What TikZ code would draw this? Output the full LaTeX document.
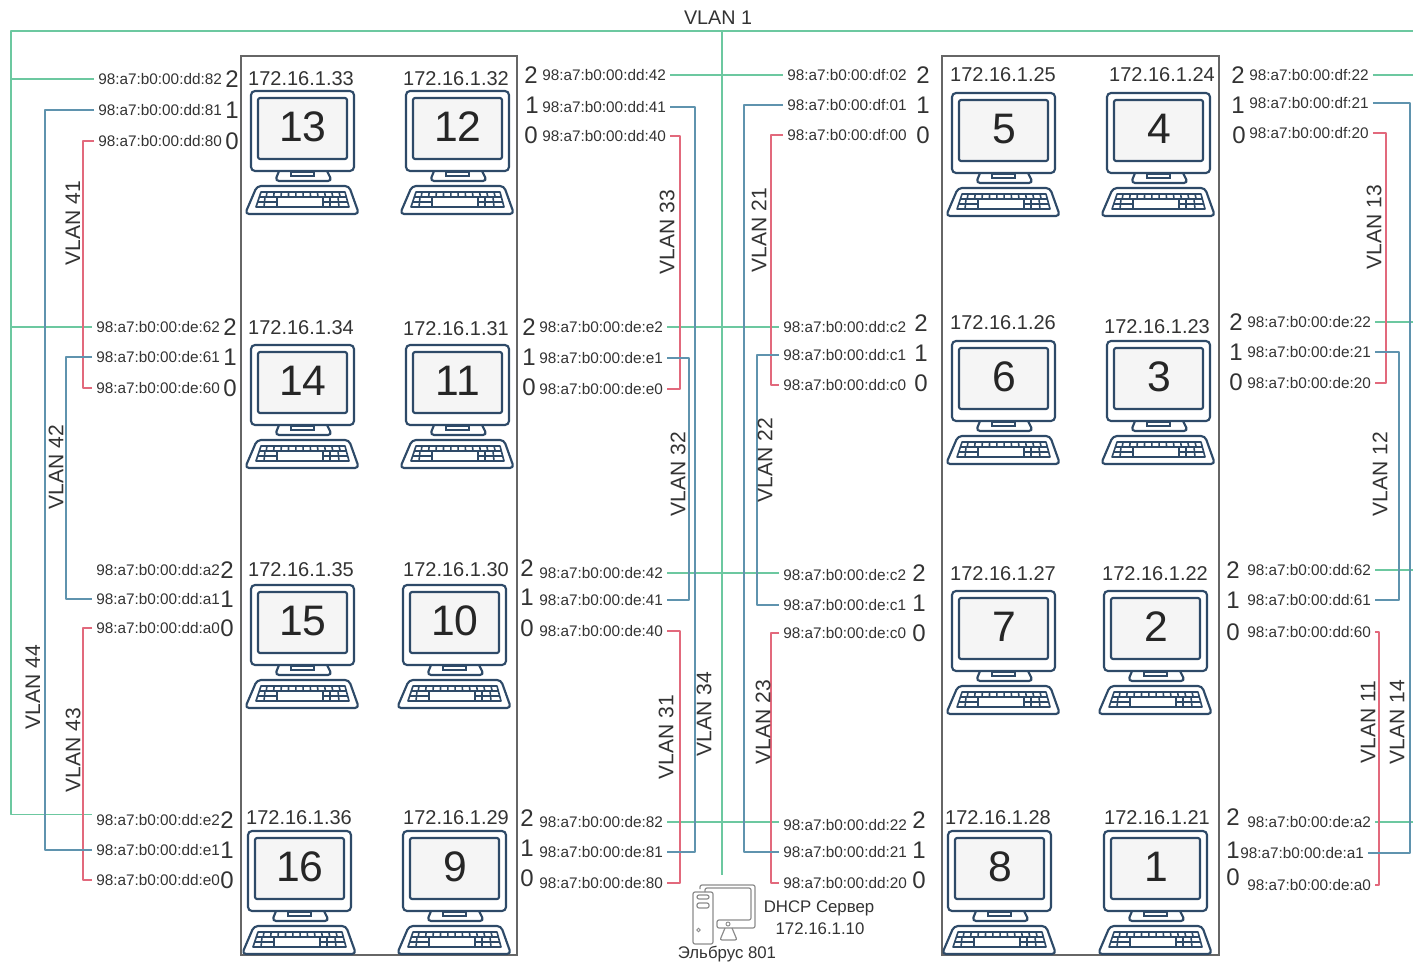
\documentclass[tikz,border=0pt]{standalone}
\usepackage{fontspec}
\setmainfont{Liberation Sans}
\definecolor{vgreen}{HTML}{6CC8A0}
\definecolor{vblue}{HTML}{5F93AE}
\definecolor{vred}{HTML}{E2697C}
\definecolor{pcline}{HTML}{2E4A68}
\definecolor{txt}{HTML}{333333}
\definecolor{srv}{HTML}{8C8C8C}
\tikzset{
  x=0.75pt,y=-0.75pt,
  every node/.style={text=txt,inner sep=0pt},
  maclabel/.style={font=\fontsize{11.5}{13}\selectfont,anchor=west,inner xsep=3pt,text height=8pt,text depth=0pt},
  portlabel/.style={font=\fontsize{18}{20}\selectfont},
  iplabel/.style={font=\fontsize{15}{17}\selectfont},
  vlanlabel/.style={font=\fontsize{15.8}{17}\selectfont,rotate=90},
  srvlabel/.style={font=\fontsize{12.6}{15}\selectfont},
  pcnum/.style={font=\fontsize{32}{34}\selectfont,text=black!85},
  lgreen/.style={draw=vgreen,line width=1.1pt,line join=round},
  lblue/.style={draw=vblue,line width=0.9pt,line join=round},
  lred/.style={draw=vred,line width=1pt,line join=round},
  pcstroke/.style={draw=pcline,line width=1.6pt,line join=round},
  pcthin/.style={draw=pcline,line width=1.2pt},
  srvstroke/.style={draw=srv,line width=0.9pt,rounded corners=1.5pt},
  cluster/.style={draw=black!60,line width=1pt},
}
\newcommand\pcicon[3]{%
\begin{scope}[shift={(#1)}]
  \draw[pcstroke,fill=white,rounded corners=3pt] (28,80) -- (24,90) -- (81,90) -- (76,80);
  \draw[pcthin] (40,81) rectangle (63,85);
  \draw[pcstroke,fill=white,rounded corners=3pt] (0,0) rectangle (103,80);
  \draw[pcstroke,fill=black!4,rounded corners=1.5pt] (7,7) rectangle (96,68);
  \draw[pcstroke,fill=white,rounded corners=3pt] (6,95) -- (98,95) -- (108,123) -- (-6,123) -- cycle;
  \draw[pcthin,line join=round] (10,101) -- (94,101) -- (98,116) -- (5,116) -- cycle;
  \draw[pcthin] (8.4,106) -- (95.4,106) (6.7,111) -- (26,111) (72,111) -- (96.7,111);
  \foreach \k in {0,...,10}{\draw[pcthin] (16+7.2*\k,101) -- (15.2+7.4*\k,106);}
  \draw[pcthin] (14,106) -- (13,116) (26,106) -- (26,116) (72,106) -- (72,116) (79,106) -- (79,116) (87,106) -- (88,116);
  \node[pcnum] (pc#3) at (52,36) {#3};
\end{scope}}
% name, label x, label y, text, port x, port y, port digit
\newcommand\macl[7]{\node[maclabel] (m#1) at (#2,#3) {#4};\node[portlabel] (p#1) at (#5,#6) {#7};}
\begin{document}
\begin{tikzpicture}
\useasboundingbox (0,0) rectangle (1413,963);
\fill[white] (0,0) rectangle (1413,963);
\draw[cluster] (241,56) rectangle (517,955);
\draw[cluster] (942,56) rectangle (1219,955);
% bus positions
\coordinate (xa) at (11,0);\coordinate (xb) at (45,0);\coordinate (xc) at (66,0);\coordinate (xd) at (83,0);
\coordinate (xe) at (680,0);\coordinate (xf) at (689,0);\coordinate (xg) at (695,0);
\coordinate (xh) at (744,0);\coordinate (xi) at (757,0);\coordinate (xj) at (771,0);
\coordinate (xk) at (1379,0);\coordinate (xl) at (1386,0);\coordinate (xm) at (1399,0);\coordinate (xn) at (1410,0);
\coordinate (xr) at (1413,0);
% MAC labels, ports
\macl{a1}{94}{79}{98:a7:b0:00:dd:82}{232}{79}{2}
\macl{a2}{94}{110}{98:a7:b0:00:dd:81}{232}{110}{1}
\macl{a3}{94}{141}{98:a7:b0:00:dd:80}{232}{141}{0}
\macl{a4}{92}{327}{98:a7:b0:00:de:62}{230}{327}{2}
\macl{a5}{92}{357}{98:a7:b0:00:de:61}{230}{357}{1}
\macl{a6}{92}{388}{98:a7:b0:00:de:60}{230}{388}{0}
\macl{a7}{92}{570}{98:a7:b0:00:dd:a2}{227}{570}{2}
\macl{a8}{92}{599}{98:a7:b0:00:dd:a1}{227}{599}{1}
\macl{a9}{92}{628}{98:a7:b0:00:dd:a0}{227}{628}{0}
\macl{a10}{92}{820}{98:a7:b0:00:dd:e2}{227}{820}{2}
\macl{a11}{92}{850}{98:a7:b0:00:dd:e1}{227}{850}{1}
\macl{a12}{92}{880}{98:a7:b0:00:dd:e0}{227}{880}{0}
\macl{b1}{538}{75}{98:a7:b0:00:dd:42}{531}{75}{2}
\macl{b2}{538}{107}{98:a7:b0:00:dd:41}{532}{105}{1}
\macl{b3}{538}{136}{98:a7:b0:00:dd:40}{531}{135}{0}
\macl{b4}{535}{327}{98:a7:b0:00:de:e2}{529}{327}{2}
\macl{b5}{535}{358}{98:a7:b0:00:de:e1}{529}{357}{1}
\macl{b6}{535}{389}{98:a7:b0:00:de:e0}{529}{387}{0}
\macl{b7}{535}{573}{98:a7:b0:00:de:42}{527}{568}{2}
\macl{b8}{535}{600}{98:a7:b0:00:de:41}{527}{597}{1}
\macl{b9}{535}{631}{98:a7:b0:00:de:40}{527}{628}{0}
\macl{b10}{535}{822}{98:a7:b0:00:de:82}{527}{818}{2}
\macl{b11}{535}{852}{98:a7:b0:00:de:81}{527}{848}{1}
\macl{b12}{535}{883}{98:a7:b0:00:de:80}{527}{878}{0}
\macl{c1}{783}{75}{98:a7:b0:00:df:02}{923}{75}{2}
\macl{c2}{783}{105}{98:a7:b0:00:df:01}{923}{105}{1}
\macl{c3}{783}{135}{98:a7:b0:00:df:00}{923}{135}{0}
\macl{c4}{779}{327}{98:a7:b0:00:dd:c2}{921}{323}{2}
\macl{c5}{779}{355}{98:a7:b0:00:dd:c1}{921}{353}{1}
\macl{c6}{779}{385}{98:a7:b0:00:dd:c0}{921}{383}{0}
\macl{c7}{779}{575}{98:a7:b0:00:de:c2}{919}{573}{2}
\macl{c8}{779}{605}{98:a7:b0:00:de:c1}{919}{603}{1}
\macl{c9}{779}{633}{98:a7:b0:00:de:c0}{919}{633}{0}
\macl{c10}{779}{825}{98:a7:b0:00:dd:22}{919}{820}{2}
\macl{c11}{779}{852}{98:a7:b0:00:dd:21}{919}{850}{1}
\macl{c12}{779}{883}{98:a7:b0:00:dd:20}{919}{880}{0}
\macl{d1}{1245}{75}{98:a7:b0:00:df:22}{1238}{75}{2}
\macl{d2}{1245}{103}{98:a7:b0:00:df:21}{1238}{105}{1}
\macl{d3}{1245}{133}{98:a7:b0:00:df:20}{1239}{135}{0}
\macl{d4}{1243}{322}{98:a7:b0:00:de:22}{1236}{322}{2}
\macl{d5}{1243}{352}{98:a7:b0:00:de:21}{1236}{352}{1}
\macl{d6}{1243}{383}{98:a7:b0:00:de:20}{1236}{382}{0}
\macl{d7}{1243}{570}{98:a7:b0:00:dd:62}{1233}{570}{2}
\macl{d8}{1243}{600}{98:a7:b0:00:dd:61}{1233}{600}{1}
\macl{d9}{1243}{632}{98:a7:b0:00:dd:60}{1233}{632}{0}
\macl{d10}{1243}{822}{98:a7:b0:00:de:a2}{1233}{817}{2}
\macl{d11}{1236}{853}{98:a7:b0:00:de:a1}{1233}{850}{1}
\macl{d12}{1243}{885}{98:a7:b0:00:de:a0}{1233}{877}{0}
% IPs
\foreach \n/\px/\py/\t in {i1/301/79/33,i2/456/79/32,i3/301/328/34,i4/456/329/31,i5/301/570/35,i6/456/570/30,i7/299/818/36,i8/456/818/29,i9/1003/75/25,i10/1162/75/24,i11/1003/323/26,i12/1157/327/23,i13/1003/574/27,i14/1155/574/22,i15/998/818/28,i16/1157/818/21}
  {\node[iplabel] (\n) at (\px,\py) {172.16.1.\t};}
% computers
\pcicon{251,91}{}{13}\pcicon{406,91}{}{12}
\pcicon{251,345}{}{14}\pcicon{406,345}{}{11}
\pcicon{251,585}{}{15}\pcicon{403,585}{}{10}
\pcicon{248,831}{}{16}\pcicon{403,831}{}{9}
\pcicon{952,93}{}{5}\pcicon{1107,93}{}{4}
\pcicon{952,341}{}{6}\pcicon{1107,341}{}{3}
\pcicon{952,591}{}{7}\pcicon{1104,591}{}{2}
\pcicon{948,831}{}{8}\pcicon{1104,831}{}{1}
% server
\coordinate (srvtop) at (722,875);
\node[srvlabel] (srvname) at (819,908) {DHCP Сервер};
\node[srvlabel] (srvip) at (820,929) {172.16.1.10};
\node[srvlabel] (srvbrand) at (727,954) {Эльбрус 801};
\begin{scope}
  \draw[srvstroke] (693,892) rectangle (713,944);
  \draw[srvstroke] (697,895) rectangle (709,899);
  \draw[srvstroke] (697,903) rectangle (709,908);
  \draw[srv,line width=0.7pt] (698.5,930) circle (1.7);
  \draw[srvstroke] (700,889) -- (700,885) -- (755,885) -- (755,928) -- (717,928) -- (717,920) -- (751,920) -- (751,888) -- (705,888) -- (705,892);
  \draw[srv,line width=0.7pt] (728,924) circle (2);
  \draw[srvstroke] (725,928) -- (720,940) -- (737,940) -- (732,928);
\end{scope}
% VLAN 1
\coordinate (topl) at (11,31);\coordinate (topr) at (1413,31);\coordinate (topm) at (722,31);
\draw[lgreen] (topr) -- (topl) -- (topl |- ma10.north west) -- (ma10.north west);
\draw[lgreen] (topl |- ma1.west) -- (ma1.west);
\draw[lgreen] (topl |- ma4.west) -- (ma4.west);
\draw[lgreen] (topm) -- (srvtop);
\draw[lgreen] (mb1.east) -- (mb1.east -| mc1.west);
\draw[lgreen] (mb4.east) -- (mb4.east -| mc4.west);
\draw[lgreen] (mb7.east) -- (mb7.east -| mc7.west);
\draw[lgreen] (mb10.east) -- (mb10.east -| mc10.west);
\draw[lgreen] (md1.east) -- (md1.east -| xr);
\draw[lgreen] (md4.east) -- (md4.east -| xr);
\draw[lgreen] (md7.east) -- (md7.east -| xr);
\draw[lgreen] (md10.east) -- (md10.east -| xr);
% left bundle
\draw[lred] (ma3.west) -- (ma3.west -| xd) -- (ma6.west -| xd) -- (ma6.west);
\draw[lred] (ma9.west) -- (ma9.west -| xd) -- (ma12.west -| xd) -- (ma12.west);
\draw[lblue] (ma5.west) -- (ma5.west -| xc) -- (ma8.west -| xc) -- (ma8.west);
\draw[lblue] (ma2.west) -- (ma2.west -| xb) -- (ma11.west -| xb) -- (ma11.west);
% second bundle
\draw[lred] (mb3.east) -- (mb3.east -| xe) -- (mb6.east -| xe) -- (mb6.east);
\draw[lred] (mb9.east) -- (mb9.east -| xe) -- (mb12.east -| xe) -- (mb12.east);
\draw[lblue] (mb5.east) -- (mb5.east -| xf) -- (mb8.east -| xf) -- (mb8.east);
\draw[lblue] (mb2.east) -- (mb2.east -| xg) -- (mb11.east -| xg) -- (mb11.east);
% third bundle
\draw[lred] (mc3.west) -- (mc3.west -| xj) -- (mc6.west -| xj) -- (mc6.west);
\draw[lred] (mc9.west) -- (mc9.west -| xj) -- (mc12.west -| xj) -- (mc12.west);
\draw[lblue] (mc5.west) -- (mc5.west -| xi) -- (mc8.west -| xi) -- (mc8.west);
\draw[lblue] (mc2.west) -- (mc2.west -| xh) -- (mc11.west -| xh) -- (mc11.west);
% fourth bundle
\draw[lred] (md3.east) -- (md3.east -| xl) -- (md6.east -| xl) -- (md6.east);
\draw[lred] (md9.east) -- (md9.east -| xk) -- (md12.east -| xk) -- (md12.east);
\draw[lblue] (md5.east) -- (md5.east -| xm) -- (md8.east -| xm) -- (md8.east);
\draw[lblue] (md2.east) -- (md2.east -| xn) -- (md11.east -| xn) -- (md11.east);
% VLAN labels
\node[font=\fontsize{14.8}{16}\selectfont] (vl1) at (718,18) {VLAN 1};
\foreach \n/\px/\py/\t in {41/73/223/41,42/56/467/42,44/33/687/44,43/73/750/43,33/667/232/33,32/678/474/32,31/666/737/31,34/704/714/34,21/759/230/21,22/765/460/22,23/763/722/23,13/1374/227/13,12/1380/474/12,11/1368/722/11,14/1397/722/14}
  {\node[vlanlabel] (vl\n) at (\px,\py) {VLAN \t};}
\end{tikzpicture}
\end{document}
